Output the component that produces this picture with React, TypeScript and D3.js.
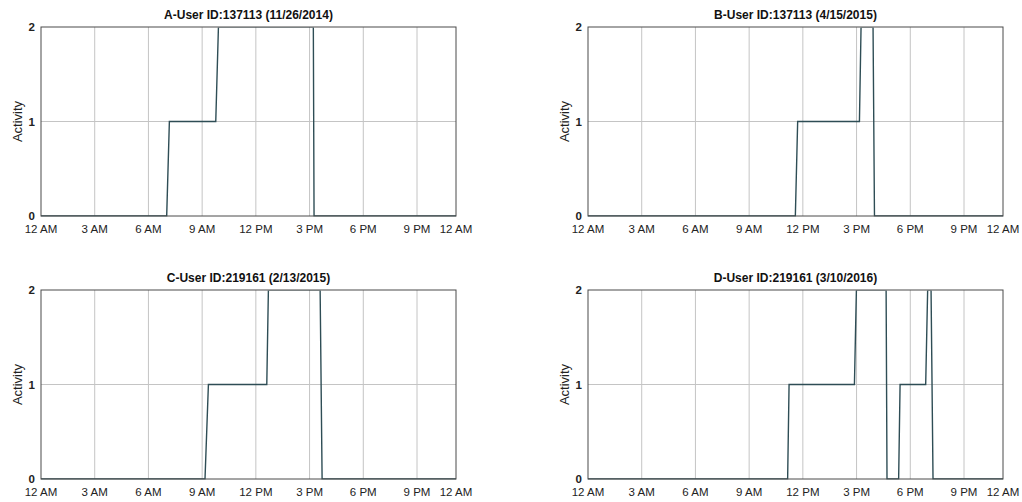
import React, { useEffect, useRef } from "react";
import * as d3 from "d3";

// hour-of-day ticks (the last one sits at the right edge of the axes)
const hourTicks = [0, 3, 6, 9, 12, 15, 18, 21, 24];
const hourLabels = ["12 AM", "3 AM", "6 AM", "9 AM", "12 PM", "3 PM", "6 PM", "9 PM", "12 AM"];
const activityTicks = [0, 1, 2];

const titles = [
  "A-User ID:137113 (11/26/2014)",
  "B-User ID:137113 (4/15/2015)",
  "C-User ID:219161 (2/13/2015)",
  "D-User ID:219161 (3/10/2016)",
];

// hours / activity level
const hoursA = [0, 7.02, 7.17, 9.76, 9.91, 15.21, 15.25, 24];
const activityA = [0, 0, 1, 1, 2, 2, 0, 0];

const hoursB = [0, 11.58, 11.71, 15.16, 15.25, 15.92, 16.0, 24];
const activityB = [0, 0, 1, 1, 2, 2, 0, 0];

const hoursC = [0, 9.16, 9.35, 12.61, 12.7, 15.59, 15.7, 24];
const activityC = [0, 0, 1, 1, 2, 2, 0, 0];

const hoursD = [0, 11.15, 11.23, 14.88, 14.99, 16.65, 16.7, 17.35, 17.43, 18.86, 18.97, 19.16, 19.27, 24];
const activityD = [0, 0, 1, 1, 2, 2, 0, 0, 1, 1, 2, 2, 0, 0];

const series = [
  [hoursA, activityA],
  [hoursB, activityB],
  [hoursC, activityC],
  [hoursD, activityD],
];

const App = () => {
  const chartRef = useRef<SVGSVGElement>(null);

  useEffect(() => {
    const svg = d3.select(chartRef.current);
    svg.selectAll("*").remove();

    const width = 415;
    const height = 189;
    const origins = [
      [41, 27],
      [588, 27],
      [41, 290],
      [588, 290],
    ];
    const font = "'Liberation Sans', Arial, Helvetica, sans-serif";

    // piecewise so that 9 PM .. 12 AM is squeezed like the original
    const x = d3.scaleLinear().domain([0, 21, 24]).range([0, 376, width]);
    const y = d3.scaleLinear().domain([0, 2]).range([height, 0]);

    // keep the level-2 runs hidden under the top border, as in the original
    svg
      .append("defs")
      .append("clipPath")
      .attr("id", "plot-clip")
      .append("rect")
      .attr("x", 0)
      .attr("y", 0.6)
      .attr("width", width)
      .attr("height", height);

    series.forEach(([hours, values], i) => {
      const [ox, oy] = origins[i];
      const g = svg.append("g").attr("transform", `translate(${ox},${oy})`);

      // grid
      g.selectAll(".vgrid")
        .data(hourTicks.slice(1, -1))
        .enter()
        .append("line")
        .attr("x1", (d) => x(d))
        .attr("x2", (d) => x(d))
        .attr("y1", 0)
        .attr("y2", height)
        .attr("stroke", "#c4c4c4")
        .attr("stroke-width", 1);

      g.selectAll(".hgrid")
        .data(activityTicks.slice(1, -1))
        .enter()
        .append("line")
        .attr("x1", 0)
        .attr("x2", width)
        .attr("y1", (d) => y(d))
        .attr("y2", (d) => y(d))
        .attr("stroke", "#c4c4c4")
        .attr("stroke-width", 1);

      // step line
      const pts = hours.map((h, k) => [h, values[k]]);
      const line = d3
        .line()
        .x((d) => x(d[0]))
        .y((d) => y(d[1]));

      g.append("path")
        .datum(pts)
        .attr("clip-path", "url(#plot-clip)")
        .attr("fill", "none")
        .attr("stroke", "#2e4d55")
        .attr("stroke-width", 1.4)
        .attr("d", line);

      // box
      g.append("rect")
        .attr("x", 0)
        .attr("y", 0)
        .attr("width", width)
        .attr("height", height)
        .attr("fill", "none")
        .attr("stroke", "#4a4a4a")
        .attr("stroke-width", 1);

      // x tick labels
      g.selectAll(".xt")
        .data(hourTicks)
        .enter()
        .append("text")
        .attr("x", (d) => x(d))
        .attr("y", height + 17)
        .attr("text-anchor", "middle")
        .attr("font-family", font)
        .attr("font-size", 11.5)
        .attr("fill", "#222")
        .text((d, k) => hourLabels[k]);

      // y tick labels
      g.selectAll(".yt")
        .data(activityTicks)
        .enter()
        .append("text")
        .attr("x", -6)
        .attr("y", (d) => y(d))
        .attr("dy", "0.35em")
        .attr("text-anchor", "end")
        .attr("font-family", font)
        .attr("font-size", 11.5)
        .attr("font-weight", "bold")
        .attr("fill", "#222")
        .text((d) => d);

      // y label
      g.append("text")
        .attr("transform", `translate(-19,${height / 2}) rotate(-90)`)
        .attr("text-anchor", "middle")
        .attr("font-family", font)
        .attr("font-size", 13)
        .attr("fill", "#222")
        .text("Activity");

      // title
      g.append("text")
        .attr("x", width / 2)
        .attr("y", -8)
        .attr("text-anchor", "middle")
        .attr("font-family", font)
        .attr("font-size", 12)
        .attr("font-weight", "bold")
        .attr("fill", "#111")
        .text(titles[i]);
    });
  }, []);

  return (
    <svg
      ref={chartRef}
      width={1022}
      height={502}
      style={{ position: "absolute", left: 0, top: 0, background: "#fff" }}
    />
  );
};

export default App;
